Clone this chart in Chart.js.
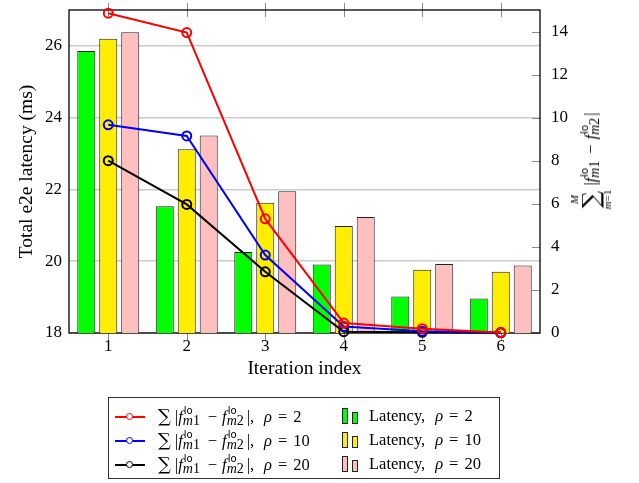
<!DOCTYPE html>
<html lang="en">
<head>
<meta charset="UTF-8">
<title>Latency per iteration</title>
<script src="https://cdn.jsdelivr.net/npm/chart.js"></script>
<style>
    body {
        margin: 0;
        padding: 0;
        background: #ffffff;
        font-family: 'Liberation Serif', serif;
    }
    .wrap {
        position: relative;
        width: 639px;
        height: 483px;
    }
    .math { white-space: nowrap; color: #000; }
    .math i { font-style: italic; }
    .sum { font-family: 'DejaVu Serif', serif; font-size: 18px; margin-right: 4px; }
    .ss {
        display: inline-block;
        position: relative;
        width: 20px;
        height: 1px;
    }
    .ss .sup {
        position: absolute;
        left: 1px;
        bottom: 6px;
        font-family: 'DejaVu Sans', sans-serif;
        font-size: 10px;
        line-height: 10px;
    }
    .ss .sub {
        position: absolute;
        left: 0;
        top: -7px;
        font-size: 14px;
        line-height: 14px;
    }
    .op { margin: 0 5px; }
    .eq { margin: 0 6px; }
    .rho { margin-left: 10px; }
    .legend {
        position: absolute;
        left: 108px;
        top: 397px;
        width: 392px;
        height: 82px;
        border: 1px solid #333;
        box-sizing: border-box;
        font-size: 16.5px;
    }
    .item {
        position: absolute;
        height: 24px;
        line-height: 24px;
    }
    .mk-line {
        position: absolute;
        width: 30px;
        height: 0;
        top: 12px;
        border-top: 2px solid;
    }
    .mk-dot {
        position: absolute;
        left: 11px;
        top: -5px;
        width: 5px;
        height: 5px;
        border: 1.6px solid;
        border-radius: 50%;
        background: #fff;
    }
    .mk-bar {
        position: absolute;
        width: 4px;
        border: 1px solid #222;
        top: 4px;
    }
    .ytitle2 {
        position: absolute;
        left: 591px;
        top: 161px;
        transform: translate(-50%, -50%) rotate(-90deg);
        font-size: 16.5px;
        display: flex;
        align-items: center;
    }
    .ytitle2 .ss { width: 19px; }
    .bigsum {
        display: inline-flex;
        flex-direction: column;
        align-items: center;
        margin-right: 4px;
    }
    .bigsum .lim { font-size: 11px; line-height: 11px; }
    .bigsum .sg { font-family: 'DejaVu Serif', serif; font-size: 24px; line-height: 22px; }
</style>
</head>
<body>
<div class="wrap">
    <canvas id="latencyChart"></canvas>
    <div class="ytitle2 math" id="ytitle2"></div>
    <div class="legend" id="legend"></div>
</div>

<script>
    // data
    const iterations = ['1', '2', '3', '4', '5', '6'];
    const rhoValues = [2, 10, 20];

    // bars: total e2e latency (ms), left axis
    const latRho2 = [25.86, 21.53, 20.26, 19.91, 19.02, 18.96];
    const latRho10 = [26.20, 23.12, 21.63, 20.98, 19.76, 19.71];
    const latRho20 = [26.38, 23.50, 21.95, 21.23, 19.92, 19.88];

    // lines: sum |f_m1 - f_m2|, right axis
    const diffRho2 = [14.85, 13.95, 5.30, 0.46, 0.20, 0.02];
    const diffRho10 = [9.67, 9.15, 3.62, 0.30, 0.08, 0.02];
    const diffRho20 = [8.00, 5.97, 2.84, 0.06, 0.03, 0.01];

    const leftTicks = [18, 20, 22, 24, 26];
    const rightTicks = [0, 2, 4, 6, 8, 10, 12, 14];

    const lineColors = ['#ff0000', '#0000ff', '#000000'];
    const barColors = ['#00ff00', '#ffee00', '#ffbfbf'];

    const serif = 'Liberation Serif';

    // |f^lo_m1 - f^lo_m2| as html
    function fTerm(k) {
        return '<i>f</i><span class="ss"><span class="sup">lo</span><span class="sub"><i>m</i>' + k + '</span></span>';
    }
    const absDiff = '|' + fTerm(1) + '<span class="op">−</span>' + fTerm(2) + '|';

    document.getElementById('ytitle2').innerHTML =
        '<span class="bigsum"><span class="lim"><i>M</i></span><span class="sg">∑</span>' +
        '<span class="lim"><i>m</i>=1</span></span><span>' + absDiff + '</span>';

    // frame + tick marks like pgfplots
    const frameTicks = {
        id: 'frameTicks',
        beforeDatasetsDraw(chart) {
            const { ctx, chartArea: a, scales } = chart;
            ctx.save();
            ctx.strokeStyle = '#8a8a8a';
            ctx.lineWidth = 1;
            ctx.beginPath();
            scales.x.ticks.forEach((t, i) => {
                const px = Math.round(scales.x.getPixelForTick(i)) + 0.5;
                ctx.moveTo(px, a.top - 7);
                ctx.lineTo(px, a.top + 7);
                ctx.moveTo(px, a.bottom - 7);
                ctx.lineTo(px, a.bottom + 7);
            });
            scales.y1.ticks.forEach(t => {
                const py = Math.round(scales.y1.getPixelForValue(t.value)) + 0.5;
                ctx.moveTo(a.right - 8, py);
                ctx.lineTo(a.right, py);
            });
            ctx.stroke();
            ctx.strokeStyle = '#000';
            ctx.lineWidth = 1.3;
            ctx.strokeRect(a.left, a.top, a.right - a.left, a.bottom - a.top);
            ctx.restore();
        }
    };

    const latSeries = [latRho2, latRho10, latRho20];
    const diffSeries = [diffRho2, diffRho10, diffRho20];

    const datasets = [];
    diffSeries.forEach((d, i) => {
        datasets.push({
            type: 'line',
            label: 'sum |f_m1 - f_m2|, rho = ' + rhoValues[i],
            data: d,
            yAxisID: 'y1',
            borderColor: lineColors[i],
            borderWidth: 2,
            pointRadius: 4.5,
            pointBorderWidth: 2,
            pointBackgroundColor: 'rgba(0,0,0,0)',
            pointBorderColor: lineColors[i],
            tension: 0,
            clip: false,
            order: 0
        });
    });
    latSeries.forEach((d, i) => {
        datasets.push({
            type: 'bar',
            label: 'Latency, rho = ' + rhoValues[i],
            data: d,
            yAxisID: 'y',
            backgroundColor: barColors[i],
            borderColor: '#222',
            borderWidth: 1,
            borderSkipped: false,
            barPercentage: 0.82,
            categoryPercentage: 0.84,
            order: 1
        });
    });

    // no automatic label padding on the vertical axes, the layout padding decides
    function noPad(s) {
        s.paddingTop = 0;
        s.paddingBottom = 0;
    }

    new Chart(document.getElementById('latencyChart'), {
        data: { labels: iterations, datasets: datasets },
        plugins: [frameTicks],
        options: {
            responsive: true,
            maintainAspectRatio: false,
            animation: false,
            layout: { padding: { top: 10, bottom: 100, left: 0, right: 0 } },
            plugins: {
                legend: { display: false },
                tooltip: { enabled: false }
            },
            scales: {
                x: {
                    grid: { display: false },
                    border: { display: false },
                    ticks: { color: '#000', padding: -5, font: { family: serif, size: 17 } },
                    title: {
                        display: true,
                        text: 'Iteration index',
                        color: '#000',
                        font: { family: serif, size: 19.5 },
                        padding: { top: 0, bottom: 2 }
                    },
                    afterFit: s => { s.height = 50; }
                },
                y: {
                    position: 'left',
                    min: 18,
                    max: 27,
                    afterBuildTicks: s => { s.ticks = leftTicks.map(v => ({ value: v })); },
                    grid: { color: '#cccccc', lineWidth: 1.5, drawTicks: false },
                    border: { display: false },
                    ticks: { color: '#000', padding: 7, font: { family: serif, size: 17 } },
                    title: {
                        display: true,
                        text: 'Total e2e latency (ms)',
                        color: '#000',
                        font: { family: serif, size: 19.5 },
                        padding: { top: 15, bottom: 0 }
                    },
                    afterFit: s => { s.width = 69; noPad(s); }
                },
                y1: {
                    position: 'right',
                    min: 0,
                    max: 15,
                    afterBuildTicks: s => { s.ticks = rightTicks.map(v => ({ value: v })); },
                    grid: { display: false },
                    border: { display: false },
                    ticks: { color: '#000', padding: 3, font: { family: serif, size: 17 } },
                    afterFit: s => { s.width = 99; noPad(s); }
                }
            }
        }
    });

    // legend, two columns as in the original
    const legend = document.getElementById('legend');
    rhoValues.forEach((rho, i) => {
        const top = 6 + i * 24;
        const left = document.createElement('div');
        left.className = 'item math';
        left.style.top = top + 'px';
        left.style.left = '6px';
        left.innerHTML =
            '<span class="mk-line" style="left:0;border-color:' + lineColors[i] + '">' +
            '<span class="mk-dot" style="border-color:' + lineColors[i] + '"></span></span>' +
            '<span style="position:absolute;left:43px;"><span class="sum">∑</span>' + absDiff +
            ',<i class="rho">ρ</i><span class="eq">=</span>' + rho + '</span>';
        legend.appendChild(left);

        const right = document.createElement('div');
        right.className = 'item math';
        right.style.top = top + 'px';
        right.style.left = '233px';
        right.innerHTML =
            '<span class="mk-bar" style="left:0;height:14px;background:' + barColors[i] + '"></span>' +
            '<span class="mk-bar" style="left:10px;height:10px;margin-top:4px;background:' + barColors[i] + '"></span>' +
            '<span style="position:absolute;left:27px;">Latency,<i class="rho">ρ</i><span class="eq">=</span>' + rho + '</span>';
        legend.appendChild(right);
    });
</script>
</body>
</html>
